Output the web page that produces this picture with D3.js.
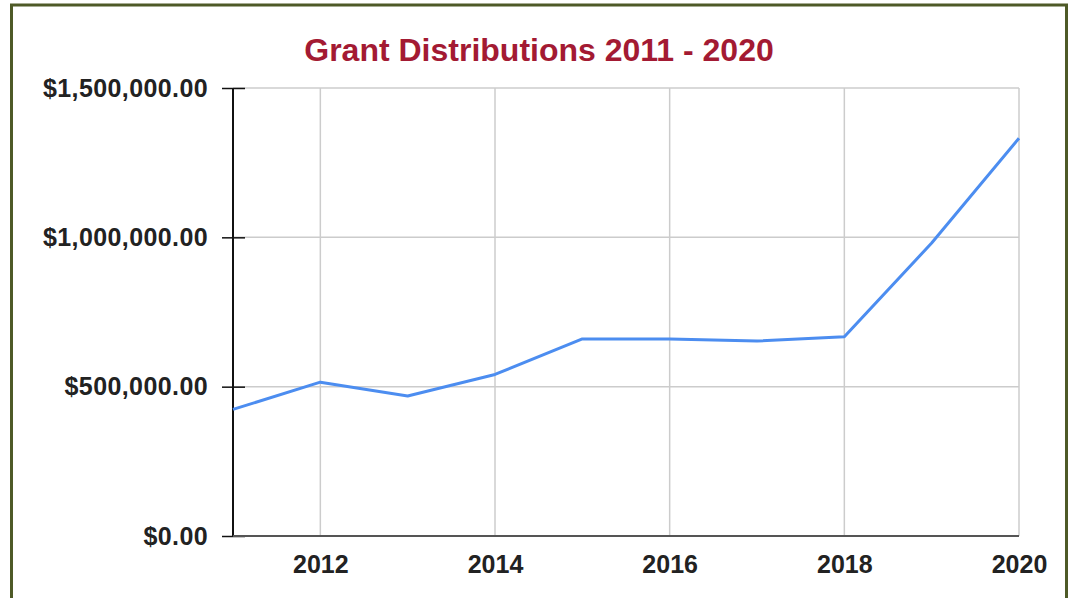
<!DOCTYPE html>
<html><head><meta charset="utf-8">
<script src="https://cdn.jsdelivr.net/npm/d3@7"></script>
<style>
html,body{margin:0;padding:0;background:#fff;}
svg{display:block;}
</style></head>
<body>
<svg id="c" width="1070" height="598"></svg>
<script>
const years = [2011,2012,2013,2014,2015,2016,2017,2018,2019,2020];
const grants = [424000,515000,469000,541000,660000,660000,653000,667000,981000,1332000];
const yTicks = [0,500000,1000000,1500000];
const xTicks = [2012,2014,2016,2018,2020];
const title = "Grant Distributions 2011 - 2020";

const svg = d3.select("#c");
const m = {left:233, right:1019, top:88, bottom:536};
const x = d3.scaleLinear().domain([2011,2020]).range([m.left,m.right]);
const y = d3.scaleLinear().domain([0,1500000]).range([m.bottom,m.top]);
const FONT = "Liberation Sans, Arial, Helvetica, sans-serif";

svg.append("rect").attr("x",11.5).attr("y",5).attr("width",1055).attr("height",600)
  .attr("fill","#fff").attr("stroke","#4e5a27").attr("stroke-width",3);

svg.append("text").attr("x",539).attr("y",61).attr("text-anchor","middle")
  .attr("font-family",FONT).attr("font-weight","bold")
  .attr("font-size",32).attr("fill","#a31a33").text(title);

// gridlines
const g = svg.append("g");
g.selectAll(".hg").data(yTicks.filter(d=>d>0)).join("line")
  .attr("x1",m.left).attr("x2",m.right).attr("y1",d=>y(d)).attr("y2",d=>y(d))
  .attr("stroke","#cccccc").attr("stroke-width",1.5);
g.selectAll(".vg").data(xTicks).join("line")
  .attr("x1",d=>x(d)).attr("x2",d=>x(d)).attr("y1",m.top).attr("y2",m.bottom)
  .attr("stroke","#cccccc").attr("stroke-width",1.5);

// y axis
const ya = d3.axisLeft(y).tickValues(yTicks).tickSize(11).tickPadding(14)
  .tickFormat(d=>"$"+d3.format(",.2f")(d));
const yg = svg.append("g").attr("transform",`translate(${m.left},0)`).call(ya);
yg.select(".domain").remove();
yg.selectAll(".tick line").attr("x2",-11).attr("x1",12).attr("stroke","#111").attr("stroke-width",1.5);
yg.selectAll("text").attr("font-family",FONT).attr("letter-spacing","0.4px")
  .attr("font-weight","bold").attr("font-size",25).attr("fill","#222").attr("x",-25);
svg.append("line").attr("x1",m.left).attr("x2",m.left).attr("y1",m.top).attr("y2",m.bottom)
  .attr("stroke","#111").attr("stroke-width",2);

// x axis
const xa = d3.axisBottom(x).tickValues(xTicks).tickSize(0).tickPadding(0).tickFormat(d3.format("d"));
const xg = svg.append("g").attr("transform",`translate(0,${m.bottom})`).call(xa);
xg.select(".domain").remove();
xg.selectAll("text").attr("font-family",FONT).attr("dy",null)
  .attr("font-weight","bold").attr("font-size",25).attr("fill","#222").attr("y",37);
svg.append("line").attr("x1",m.left).attr("x2",m.right).attr("y1",m.bottom).attr("y2",m.bottom)
  .attr("stroke","#555").attr("stroke-width",2);

// line
const line = d3.line().x((d,i)=>x(years[i])).y(d=>y(d));
svg.append("path").datum(grants).attr("d",line).attr("fill","none")
  .attr("stroke","#4c8df0").attr("stroke-width",3).attr("stroke-linejoin","round");
</script>
</body></html>
